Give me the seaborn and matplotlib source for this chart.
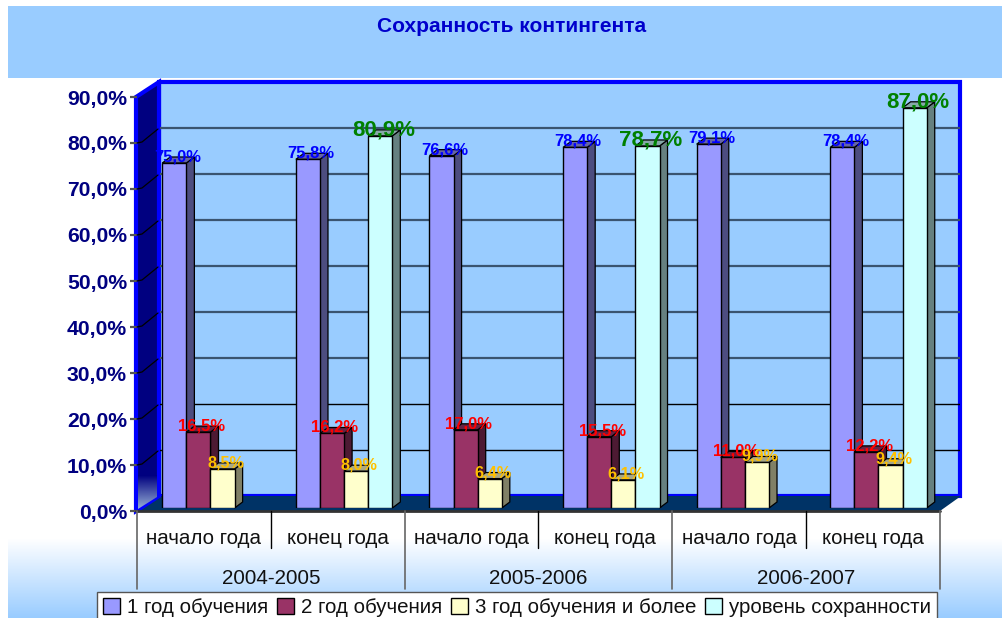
import numpy as np
import pandas as pd
import seaborn as sns
import matplotlib.pyplot as plt
from matplotlib.patches import Polygon, Rectangle

periods = ["начало года", "конец года"] * 3
years = ["2004-2005", "2005-2006", "2006-2007"]
slots = ["a1", "a2", "b1", "b2", "c1", "c2"]
series_names = ["1 год обучения", "2 год обучения", "3 год обучения и более", "уровень сохранности"]
year1 = [75.0, 75.8, 76.6, 78.4, 79.1, 78.4]
year2 = [16.5, 16.2, 17.0, 15.5, 11.0, 12.2]
year3 = [8.5, 8.0, 6.4, 6.1, 9.9, 9.4]
retention = [np.nan, 80.9, np.nan, 78.7, np.nan, 87.0]
colors = ["#9999FF", "#993366", "#FFFFCC", "#CCFFFF"]
label_colors = ["#0000FF", "#FF0000", "#FFC000", "#008000"]
label_sizes = [12, 12, 11.7, 16]
yticks = list(range(0, 100, 10))

W, H = 1002, 618
BAR_WIDTH = 0.722
sns.set_theme(style="white")
plt.rcParams["font.family"] = ["Liberation Sans", "DejaVu Sans"]

df = pd.DataFrame({
    "slot": slots * 4,
    "series": np.repeat(series_names, 6),
    "value": year1 + year2 + year3 + retention,
})


def px_axes(fig, left, top, right, bottom, z):
    a = fig.add_axes([left / W, 1 - bottom / H, (right - left) / W, (bottom - top) / H], zorder=z)
    a.patch.set_alpha(0)
    a.set_axis_off()
    return a


fig = plt.figure(figsize=(W / 100, H / 100), dpi=100, facecolor="white")

# background + 3d box, in pixels
bg = px_axes(fig, 0, 0, W, H, 0)
bg.set_xlim(0, W)
bg.set_ylim(H, 0)
bg.add_patch(Rectangle((8, 6), W - 8, 72, fc="#99CCFF", ec="none"))
grad = np.linspace(0, 1, 80).reshape(-1, 1)
grad_rgb = np.ones((80, 1, 3)) + grad[..., None] * (np.array([0x99, 0xCC, 0xFF]) / 255 - 1)
bg.imshow(grad_rgb, extent=(8, W, H, 538), aspect="auto", zorder=1)
bg.set_xlim(0, W)
bg.set_ylim(H, 0)

bg.add_patch(Rectangle((159, 82), 801, 414, fc="#99CCFF", ec="#0000FF", lw=3, zorder=2))
floor = Polygon([(136, 511), (159, 496), (961, 496), (940, 511)], fc="#003366", ec="none", zorder=3)
bg.add_patch(floor)
side = Polygon([(136, 97), (159, 82), (159, 496), (136, 511)], fc="#000080", ec="#0000FF", lw=3, zorder=3)
bg.add_patch(side)
shade = np.zeros((40, 1, 3))
t = np.linspace(0, 1, 40)
for c, (c0, c1) in enumerate([(0, 0.62), (0, 0.72), (0.5, 0.85)]):
    shade[:, 0, c] = c0 + (c1 - c0) * t
im = bg.imshow(shade, extent=(137, 158, 511, 475), aspect="auto", zorder=3.5)
im.set_clip_path(Polygon([(138, 509), (157, 497), (157, 470), (138, 470)], transform=bg.transData))
bg.set_xlim(0, W)
bg.set_ylim(H, 0)

# back wall gridlines
back = px_axes(fig, 160, 82, 960, 496, 1)
back.set_ylim(0, 90)
back.set_xlim(0, 1)
for v in yticks[1:-1]:
    if v <= 20:
        back.axhline(v, color="black", lw=1)
    else:
        back.axhline(v, color="#3A5470", lw=1.6)

# front plane: value axis and category table
front = px_axes(fig, 137, 97, 940, 511, 3)
front.set_ylim(0, 90)
front.set_xlim(0, 6)
for v in yticks:
    y_px = 511 - v * 4.6
    bg.plot([130, 137], [y_px, y_px], color="#555555", lw=1.6, zorder=4, solid_capstyle="butt")
    if 0 < v < 90:
        bg.plot([137, 142, 158], [y_px, y_px - 1, y_px - 14], color="black", lw=0.9, zorder=4)
    front.annotate(f"{v},0%", (0, v), xytext=(-10, 0), textcoords="offset pixels", ha="right", va="center_baseline",
                   fontsize=15.2, fontweight="bold", color="#000080", annotation_clip=False)
bg.plot([136, 940], [511, 511], color="#333333", lw=2, zorder=4)
for i in range(7):
    x_px = 137 + i * 803 / 6
    if i % 2 == 0:
        bg.plot([x_px, x_px], [511, 589], color="#666666", lw=1.2, zorder=4)
    else:
        bg.plot([x_px, x_px], [511, 548], color="black", lw=1, zorder=4)
for i, name in enumerate(periods):
    front.text(i + 0.5, -27 / 4.6, name, ha="center", va="center", fontsize=14.8, color="#111111", clip_on=False)
for i, name in enumerate(years):
    front.text(i * 2 + 1, -68 / 4.6, name, ha="center", va="center", fontsize=14.8, color="#111111", clip_on=False)

# bars
ax = px_axes(fig, 143.7, 82, 945.3, 508, 4)
sns.barplot(data=df, x="slot", y="value", hue="series", hue_order=series_names, palette=colors, saturation=1,
            order=slots, errorbar=None, width=BAR_WIDTH, gap=0, edgecolor="black", linewidth=1, ax=ax, legend=True)
ax.set_xlim(-0.5, 5.5)
ax.set_ylim(0, (508 - 82) / 4.6)
ax.set_axis_off()

handles, labels = ax.get_legend_handles_labels()
ax.get_legend().remove()

bars = [p for p in ax.patches if p.get_height() > 0]
DX, DY = 8, 6
to_data = ax.transData.inverted()
for n, p in enumerate(bars):
    x0, x1 = p.get_x(), p.get_x() + p.get_width()
    top = p.get_height()
    (ax0, ay0), (ax1, ay1) = ax.transData.transform([(x0, 0), (x1, top)])
    pts = to_data.transform([(ax1, ay0), (ax1 + DX, ay0 + DY), (ax1 + DX, ay1 + DY), (ax1, ay1)])
    tops = to_data.transform([(ax0, ay1), (ax0 + DX, ay1 + DY), (ax1 + DX, ay1 + DY), (ax1, ay1)])
    rgb = np.array(p.get_facecolor()[:3])
    z = 2 + x0 * 10
    p.set_zorder(z + 0.2)
    ax.add_patch(Polygon(pts, fc=rgb * 0.5, ec="black", lw=0.9, zorder=z, clip_on=False))
    ax.add_patch(Polygon(tops, fc=rgb * 0.66, ec="black", lw=0.9, zorder=z, clip_on=False))

for s, values in enumerate([year1, year2, year3, retention]):
    for i, v in enumerate(values):
        if np.isnan(v):
            continue
        x = i - BAR_WIDTH / 2 + BAR_WIDTH / 4 * (s + 0.5)
        ax.annotate(f"{v:.1f}%".replace(".", ","), (x, v), xytext=(3, 6), textcoords="offset pixels",
                    ha="center", va="center", fontsize=label_sizes[s], fontweight="bold",
                    color=label_colors[s], zorder=100, annotation_clip=False)

fig.legend(handles, labels, loc="lower left", bbox_to_anchor=(97 / W, -5 / H), ncols=4, fontsize=14.8,
           frameon=True, fancybox=False, framealpha=1, edgecolor="#555555", borderpad=0.3,
           handlelength=0.8, handleheight=0.8, handletextpad=0.35, columnspacing=0.45, borderaxespad=0,
           labelcolor="#111111")

fig.text(512 / W, 1 - 26.5 / H, "Сохранность контингента", ha="center", va="center", fontsize=15,
         fontweight="bold", color="#0000CC", zorder=10)

fig.savefig("out.png", dpi=100)
